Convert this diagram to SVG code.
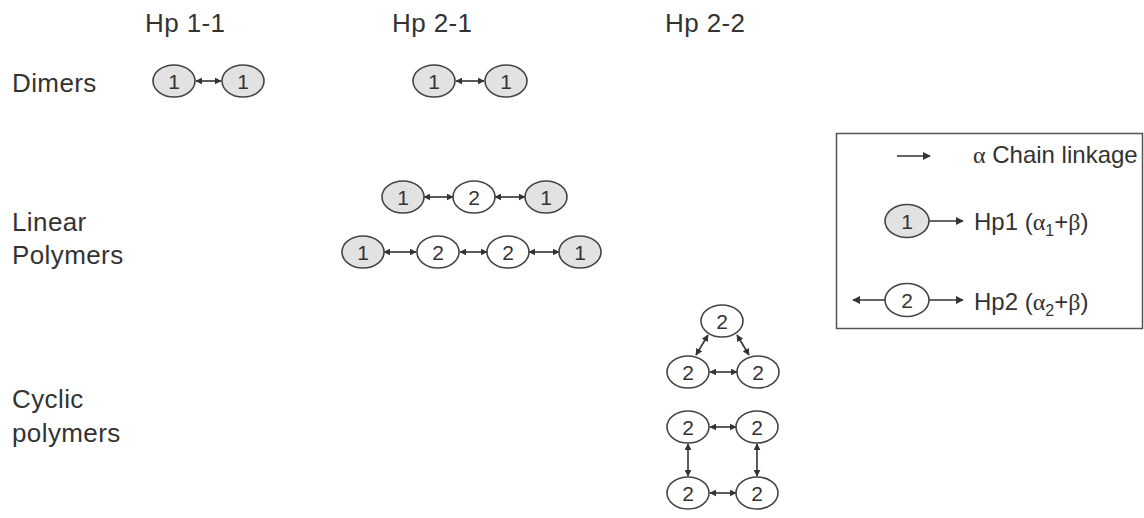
<svg xmlns="http://www.w3.org/2000/svg" width="1144" height="518" viewBox="0 0 1144 518">
<style>
text{font-family:"Liberation Sans",Arial,sans-serif;fill:#333;font-size:26px;letter-spacing:0.4px}
.n{font-size:21px;text-anchor:middle;letter-spacing:0}
.lg{font-size:24px;letter-spacing:0}
.g{font-family:"Liberation Serif","Times New Roman",serif}
ellipse{stroke:#444;stroke-width:1.6}
.h1{fill:#e2e2e2}
.h2{fill:#fff}
.c line{stroke:#333;stroke-width:1.6;marker-start:url(#ah);marker-end:url(#ah)}
.c line.s{marker-start:none;marker-end:url(#al)}
</style>
<defs>
<marker id="ah" viewBox="0 0 10 10" refX="9" refY="5" markerWidth="7" markerHeight="7" markerUnits="userSpaceOnUse" orient="auto-start-reverse">
<path d="M0,0 L10,5 L0,10 z" fill="#333"/>
</marker>
<marker id="al" viewBox="0 0 10 10" refX="9" refY="5" markerWidth="8" markerHeight="8" markerUnits="userSpaceOnUse" orient="auto-start-reverse">
<path d="M0,0 L10,5 L0,10 z" fill="#333"/>
</marker>
</defs>
<rect width="1144" height="518" fill="#fff"/>
<g id="headers">
<text x="145" y="32">Hp 1-1</text>
<text x="392" y="32">Hp 2-1</text>
<text x="665" y="32">Hp 2-2</text>
</g>
<g id="rows">
<text x="12" y="92">Dimers</text>
<text x="12" y="231">Linear</text>
<text x="12" y="264">Polymers</text>
<text x="12" y="408">Cyclic</text>
<text x="12" y="442">polymers</text>
</g>
<g class="c" id="connectors">
<line x1="196" y1="81" x2="221" y2="81"/>
<line x1="456" y1="81" x2="484" y2="81"/>
<line x1="424" y1="197" x2="453" y2="197"/>
<line x1="495" y1="197" x2="525" y2="197"/>
<line x1="384" y1="252" x2="416" y2="252"/>
<line x1="460" y1="252" x2="487" y2="252"/>
<line x1="529" y1="252" x2="559" y2="252"/>
<line x1="708" y1="335" x2="696" y2="355"/>
<line x1="737" y1="335" x2="749" y2="355"/>
<line x1="710" y1="372" x2="737" y2="372"/>
<line x1="710" y1="427" x2="736" y2="427"/>
<line x1="710" y1="493" x2="736" y2="493"/>
<line x1="688" y1="444" x2="688" y2="476"/>
<line x1="757" y1="444" x2="757" y2="476"/>
<line class="s" x1="897" y1="156" x2="930" y2="156"/>
<line class="s" x1="929" y1="221" x2="963" y2="221"/>
<line class="s" x1="929" y1="300" x2="963" y2="300"/>
<line class="s" x1="886" y1="300" x2="853" y2="300"/>
</g>
<g id="n-d11a"><ellipse class="h1" cx="174" cy="81" rx="21" ry="16"/><text class="n" x="174" y="89">1</text></g>
<g id="n-d11b"><ellipse class="h1" cx="243" cy="81" rx="21" ry="16"/><text class="n" x="243" y="89">1</text></g>
<g id="n-d21a"><ellipse class="h1" cx="434" cy="81" rx="21" ry="16"/><text class="n" x="434" y="89">1</text></g>
<g id="n-d21b"><ellipse class="h1" cx="506" cy="81" rx="21" ry="16"/><text class="n" x="506" y="89">1</text></g>
<g id="n-l1a"><ellipse class="h1" cx="403" cy="197" rx="21" ry="16"/><text class="n" x="403" y="205">1</text></g>
<g id="n-l1b"><ellipse class="h2" cx="474" cy="197" rx="21" ry="16"/><text class="n" x="474" y="205">2</text></g>
<g id="n-l1c"><ellipse class="h1" cx="546" cy="197" rx="21" ry="16"/><text class="n" x="546" y="205">1</text></g>
<g id="n-l2a"><ellipse class="h1" cx="363" cy="252" rx="21" ry="16"/><text class="n" x="363" y="260">1</text></g>
<g id="n-l2b"><ellipse class="h2" cx="438" cy="252" rx="21" ry="16"/><text class="n" x="438" y="260">2</text></g>
<g id="n-l2c"><ellipse class="h2" cx="508" cy="252" rx="21" ry="16"/><text class="n" x="508" y="260">2</text></g>
<g id="n-l2d"><ellipse class="h1" cx="580" cy="252" rx="21" ry="16"/><text class="n" x="580" y="260">1</text></g>
<g id="n-t1"><ellipse class="h2" cx="722" cy="321" rx="21" ry="16"/><text class="n" x="722" y="329">2</text></g>
<g id="n-t2"><ellipse class="h2" cx="688" cy="372" rx="21" ry="16"/><text class="n" x="688" y="380">2</text></g>
<g id="n-t3"><ellipse class="h2" cx="758" cy="372" rx="21" ry="16"/><text class="n" x="758" y="380">2</text></g>
<g id="n-s1"><ellipse class="h2" cx="688" cy="427" rx="21" ry="16"/><text class="n" x="688" y="435">2</text></g>
<g id="n-s2"><ellipse class="h2" cx="757" cy="427" rx="21" ry="16"/><text class="n" x="757" y="435">2</text></g>
<g id="n-s3"><ellipse class="h2" cx="688" cy="493" rx="21" ry="16"/><text class="n" x="688" y="501">2</text></g>
<g id="n-s4"><ellipse class="h2" cx="757" cy="493" rx="21" ry="16"/><text class="n" x="757" y="501">2</text></g>
<g id="legend">
<rect x="836.5" y="133.5" width="306" height="195" fill="none" stroke="#555" stroke-width="1.5"/>
<text class="lg" x="973" y="163"><tspan class="g">α</tspan> Chain linkage</text>
<ellipse class="h1" cx="907" cy="221" rx="22" ry="16.5"/><text class="n" x="907" y="229">1</text>
<text class="lg" x="974" y="230">Hp1 (<tspan class="g">α</tspan><tspan font-size="16" dy="6">1</tspan><tspan dy="-6">+</tspan><tspan class="g">β</tspan>)</text>
<ellipse class="h2" cx="907" cy="300" rx="22" ry="16.5"/><text class="n" x="907" y="308">2</text>
<text class="lg" x="974" y="310">Hp2 (<tspan class="g">α</tspan><tspan font-size="16" dy="6">2</tspan><tspan dy="-6">+</tspan><tspan class="g">β</tspan>)</text>
</g>
</svg>
